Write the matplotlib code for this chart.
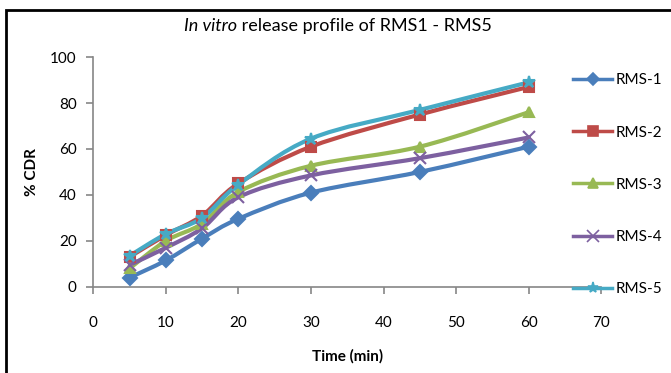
import numpy as np
import matplotlib.pyplot as plt
from matplotlib.path import Path
from matplotlib.patches import PathPatch, Rectangle
from matplotlib.lines import Line2D

# Time points (min)
time = [5, 10, 15, 20, 30, 45, 60]

# % cumulative drug release
rms1 = [4, 11.5, 21, 29.6, 41, 50, 61]
rms2 = [13, 22.5, 31, 45, 61, 75, 87]
rms3 = [8, 20, 27.5, 41.3, 52.7, 61, 76]
rms4 = [9.5, 17, 25.5, 39, 48.5, 56, 65]
rms5 = [13.5, 23, 30, 44.5, 64.5, 77, 89]

labels = ['RMS-1', 'RMS-2', 'RMS-3', 'RMS-4', 'RMS-5']
colors = ['#4a7ebb', '#be4b48', '#98b954', '#7d60a0', '#46aac5']
markers = ['D', 's', '^', 'x', '*']

fam = ['Lato', 'DejaVu Sans']
plt.rcParams['font.family'] = fam


def smooth_path(x, y):
    """Excel-like smoothed line as a cubic bezier path (data coords)"""
    x = np.asarray(x, float)
    y = np.asarray(y, float)
    verts = [(x[0], y[0])]
    codes = [Path.MOVETO]
    n = len(x)
    for i in range(n - 1):
        x0, y0 = (x[i - 1], y[i - 1]) if i > 0 else (x[i], y[i])
        x3, y3 = (x[i + 2], y[i + 2]) if i + 2 < n else (x[i + 1], y[i + 1])
        c1 = (x[i] + (x[i + 1] - x0) / 6, y[i] + (y[i + 1] - y0) / 6)
        c2 = (x[i + 1] - (x3 - x[i]) / 6, y[i + 1] - (y3 - y[i]) / 6)
        verts += [c1, c2, (x[i + 1], y[i + 1])]
        codes += [Path.CURVE4] * 3
    return Path(verts, codes)


fig = plt.figure(figsize=(6.71, 3.73), dpi=100)
ax = fig.add_axes([0.139, 0.231, 0.757, 0.616])

series = [rms1, rms2, rms3, rms4, rms5]
handles = []
for vals, lab, c, m in zip(series, labels, colors, markers):
    patch = PathPatch(smooth_path(time, vals), facecolor='none', edgecolor=c,
                      lw=3, transform=ax.transData, zorder=2)
    ax.add_patch(patch)
    ms = 9 if m in ('x', '*') else 7.5
    ax.plot(time, vals, ls='none', marker=m, color=c, ms=ms, mew=1.5, zorder=3)
    handles.append(Line2D([], [], color=c, lw=2.5, marker=m, ms=ms - 1, mew=1.2, label=lab))

ax.set_xlim(0, 70)
ax.set_ylim(0, 100)
ax.set_xticks(range(0, 71, 10))
ax.set_yticks(range(0, 101, 20))
for s in ['top', 'right']:
    ax.spines[s].set_visible(False)
for s in ['left', 'bottom']:
    ax.spines[s].set_color('#868686')
    ax.spines[s].set_linewidth(1.2)
ax.tick_params(direction='out', length=5, color='#868686', width=1.2,
               labelsize=11, pad=7)
ax.tick_params(axis='x', pad=16)

ax.set_xlabel('Time (min)', fontsize=11, fontweight='bold', labelpad=14)
ax.set_ylabel('% CDR', fontsize=11, fontweight='bold', labelpad=8)

# title: italic "In vitro" followed by upright rest
fig.canvas.draw()
r = fig.canvas.get_renderer()
t1 = fig.text(0, 0.918, 'In vitro', fontsize=13, style='italic', ha='left')
t2 = fig.text(0, 0.918, ' release profile of RMS1 - RMS5', fontsize=13, ha='left')
w1 = t1.get_window_extent(r).width / fig.bbox.width
w2 = t2.get_window_extent(r).width / fig.bbox.width
x0 = 0.503 - (w1 + w2) / 2
t1.set_x(x0)
t2.set_x(x0 + w1)

fig.legend(handles=handles, loc='upper left', bbox_to_anchor=(0.833, 0.84),
           frameon=False, labelspacing=2.5, handlelength=2.6,
           prop={'size': 11}, handletextpad=0.2)

fig.patches.append(Rectangle((6 / 671, -0.1), 1.2, 1 - 10 / 373 + 0.1,
                             transform=fig.transFigure, fill=False,
                             edgecolor='black', lw=2))

fig.savefig('out.png', dpi=100)
